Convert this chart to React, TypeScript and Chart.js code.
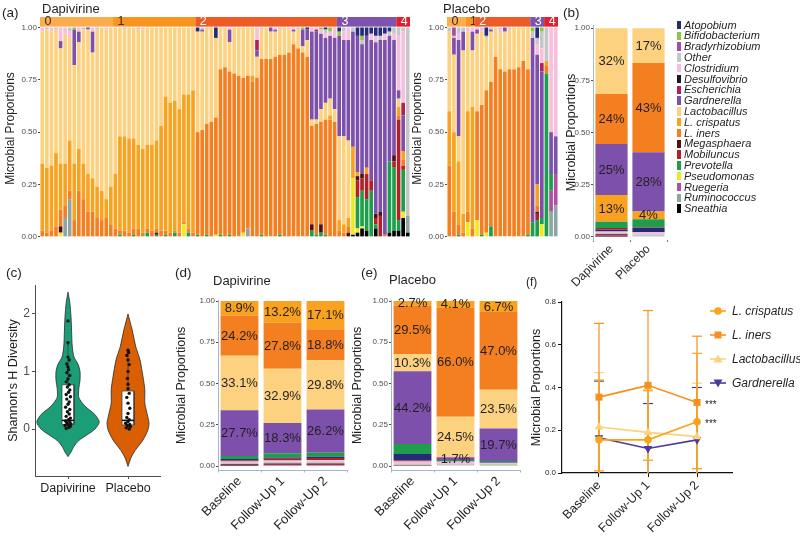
import React, { useEffect, useRef } from 'react';
import { Chart, registerables } from 'chart.js';

Chart.register(...registerables);

const FONT = '"Liberation Sans", Arial, Helvetica, sans-serif';
Chart.defaults.font.family = FONT;

// ---------------- taxa (legend order) & colours ----------------
const TAXA = ['Atopobium', 'Bifidobacterium', 'Bradyrhizobium', 'Other', 'Clostridium', 'Desulfovibrio', 'Escherichia', 'Gardnerella', 'Lactobacillus', 'L. crispatus', 'L. iners', 'Megasphaera', 'Mobiluncus', 'Prevotella', 'Pseudomonas', 'Ruegeria', 'Ruminococcus', 'Sneathia'];
const TAXA_COLORS = ['#262A78', '#8CC63F', '#A54C9B', '#C6C6C6', '#F7BEDD', '#1A1A1A', '#B11F5C', '#7D51AB', '#FCD281', '#F9A21F', '#F47F20', '#4E1012', '#B2202A', '#1E9E4A', '#F2E91D', '#B34FA3', '#8FA5A3', '#000000'];
const colorOf = (name: string) => TAXA_COLORS[TAXA.indexOf(name)];

// ---------------- (a) clusters ----------------
const clusterLabels = ['0', '1', '2', '3', '4'];
const clusterColors = ['#F9AD4F', '#F7951F', '#EF5B26', '#7E53AE', '#E41E2C'];
const clusterTextColors = ['#3B2A1A', '#3B2A1A', '#FFFFFF', '#FFFFFF', '#FFFFFF'];
const dapClusterSizes = [16, 18, 31, 13, 3];
const plaClusterSizes = [4, 2, 12, 3, 3];
const propTicks = [0, 0.25, 0.5, 0.75, 1];

// ---------------- (a) Dapivirine samples ----------------
const dapIners = [
  .03, .02, .03, .05, .08, .06, .04, .08, .22, .18,
  .12, .12, .09, .08, .09, .06, .04, .02, .03, .02,
  .03, .04, .02, .02, .03, .02, .03, .02, .02, .01,
  .02, .01, .02, .02, .49, .51, .53, .55, .56, .79,
  .81, .78, .78, .77, .74, .73, .74, .76, .84, .85,
  .85, .86, .86, .87, .88, .92, .90, .88, .86, .47,
  .53, .49, .55, .56, .55, .03, .02, .03, 0, 0,
  0, 0, 0, 0, 0, .01, 0, 0, .02, .03,
  0];
const dapCrispatus = [
  .32, .31, .31, .35, .22, .20, .24, .27, .20, .17,
  .18, .16, .15, .14, .09, .18, .26, .45, .45, .45,
  .43, .40, .40, .40, .41, .42, .50, .64, .62, .62,
  .59, .61, .64, .68, 0, 0, 0, 0, 0, 0,
  0, 0, 0, 0, 0, 0, .03, 0, 0, 0,
  0, 0, 0, 0, 0, 0, 0, 0, 0, 0,
  0, 0, 0, .02, 0, .05, .04, .04, .15, .02,
  0, .03, 0, 0, 0, 0, 0, 0, .04, .04,
  0];
const dapLactobacillus = [
  .63, .66, .64, .59, .55, .62, .49, .47, .51, .64,
  .69, .60, .75, .78, .81, .76, .70, .52, .51, .53,
  .53, .55, .57, .56, .56, .54, .47, .33, .36, .35,
  .39, .32, .32, .30, .48, .47, .46, .45, .38, .20,
  .19, .14, .22, .23, .24, .23, .23, .10, .14, .15,
  .13, .12, .12, .13, .11, .06, .09, .03, .08, .03,
  .02, .06, .08, .08, .06, .40, .42, .37, 0, 0,
  0, 0, 0, 0, 0, 0, 0, 0, .04, 0,
  0];
const dapGardnerella = [
  0, 0, 0, 0, .035, 0, 0, .17, .05, 0,
  .01, .10, 0, 0, 0, 0, 0, 0, 0, 0,
  0, 0, 0, 0, 0, 0, 0, 0, 0, 0,
  0, 0, 0, 0, 0, .01, 0, 0, 0, 0,
  0, .06, 0, 0, 0, 0, 0, .03, 0, 0,
  .02, .01, 0, 0, 0, .01, 0, .08, .05, .42,
  .42, .36, .31, .30, .34, .48, .46, .48, .55, .65,
  .62, .63, .67, .82, .82, .93, .60, .55, .04, .17,
  0];
// minor taxa: [sample index, proportion]
const dapPseudomonas: [number, number][] = [[4, .02], [31, .06], [38, .01], [44, .02], [68, .27], [69, .02], [70, .01], [79, .03]];
const dapMegasphaera: [number, number][] = [[4, .03], [25, .01], [59, .03], [61, .04], [67, .02], [69, .02], [70, .02], [73, .02], [74, .02], [77, .03]];
const dapRuminococcus: [number, number][] = [[5, .09], [6, .18], [45, .04], [80, .08]];
const dapPrevotella: [number, number][] = [[17, .01], [20, .01], [23, .02], [25, .01], [27, .01], [29, .02], [32, .02], [34, .01], [36, .01], [39, .01], [41, .01], [48, .01], [52, .01], [59, .03], [60, .01], [61, .02], [62, .01], [69, .15], [70, .17], [71, .15], [72, .22], [73, .02], [76, .34], [77, .30], [78, .05], [79, .20]];
const dapMobiluncus: [number, number][] = [[69, .08], [70, .06], [71, .12], [72, .05], [73, .03], [74, .10], [77, .03], [78, .48], [79, .02]];
const dapSneathia: [number, number][] = [[68, .01], [69, .02], [70, .04], [71, .03], [73, .04], [76, .02], [77, .03], [78, .03], [79, .09], [80, .02]];
const dapEscherichia: [number, number][] = [[47, .05], [60, .01], [79, .06]];
const dapBifidobacterium: [number, number][] = [[7, .01], [57, .01], [61, .01], [63, .02], [65, .02], [70, .02]];
const dapAtopobium: [number, number][] = [[34, .02], [38, .05], [58, .01], [62, .01], [65, .02], [69, .04], [70, .04], [71, .04], [72, .03], [73, .04], [74, .04], [75, .03], [76, .02]];
const dapClostridium: [number, number][] = [[0, .02], [2, .02], [4, .065], [5, .03], [6, .03], [8, .02], [11, .02], [14, .01], [22, .01], [41, .01], [47, .06], [51, .01], [54, .01], [55, .01], [59, .02], [60, .01], [61, .02], [62, .02], [63, .02], [64, .05], [66, .04], [67, .06], [72, .03], [73, .03], [75, .03], [77, .03], [78, .26], [79, .34]];
const dapOther: [number, number][] = [[1, .01], [3, .01], [6, .02], [9, .01], [12, .01], [18, .01], [21, .01], [35, .01], [48, .01], [52, .01], [56, .01], [62, .02], [66, .02], [68, .02], [70, .02], [74, .02], [76, .02], [77, .03], [78, .04], [79, .02], [80, .90]];
const dapBradyrhizobium: [number, number][] = [];
const dapDesulfovibrio: [number, number][] = [];
const dapRuegeria: [number, number][] = [];

// ---------------- (a) Placebo samples ----------------
const plaIners = [.34, .12, .05, .02, .05, .04, .52, .62, .68, .69, .86, .80, .79, .80, .80, .81, .84, .79, 0, .03, 0, .04, 0, 0];
const plaCrispatus = [.26, .38, .30, .09, .48, .58, 0, 0, 0, 0, 0, 0, 0, 0, 0, 0, 0, 0, 0, .10, 0, .02, 0, 0];
const plaLactobacillus = [.38, .37, .12, .78, .38, .27, .37, .35, .25, .24, .14, .17, .19, .19, .20, .19, .16, .20, 0, 0, 0, 0, 0, 0];
const plaGardnerella = [0, .08, .46, .09, 0, .09, .02, 0, 0, .01, 0, 0, .02, 0, 0, 0, 0, 0, .88, .62, .70, 0, .20, .18];
const plaPrevotella: [number, number][] = [[2, .01], [7, .01], [9, .05], [17, .01], [18, .07], [19, .08], [20, .03], [21, .78], [22, .08]];
const plaPseudomonas: [number, number][] = [[4, .07], [6, .08], [8, .02], [20, .06]];
const plaMobiluncus: [number, number][] = [[19, .03]];
const plaMegasphaera: [number, number][] = [[19, .01]];
const plaClostridium: [number, number][] = [[2, .03], [4, .02], [5, .02], [6, .01], [7, .02], [11, .02], [19, .05], [20, .07], [22, .50], [23, .52]];
const plaOther: [number, number][] = [[0, .02], [1, .01], [2, .03], [3, .02], [8, .01], [9, .01], [11, .01], [13, .01], [18, .03], [19, .03], [20, .08], [21, .16]];
const plaBradyrhizobium: [number, number][] = [[1, .04]];
const plaAtopobium: [number, number][] = [[8, .04], [19, .05]];
const plaBifidobacterium: [number, number][] = [[18, .02], [20, .02]];
const plaEscherichia: [number, number][] = [[20, .04]];
const plaRuminococcus: [number, number][] = [[22, .12], [23, .15]];
const plaRuegeria: [number, number][] = [[22, .10], [23, .15]];
const plaSneathia: [number, number][] = [];
const plaDesulfovibrio: [number, number][] = [];

// ---------------- (b) overall composition ----------------
const bGroups = ['Dapivirine', 'Placebo'];
const bLactobacillus = [0.316, 0.167];
const bIners = [0.239, 0.428];
const bGardnerella = [0.245, 0.283];
const bCrispatus = [0.128, 0.038];
const bPrevotella = [0.030, 0.038];
const bMobiluncus = [0.008, 0.002];
const bAtopobium = [0.008, 0.022];
const bClostridium = [0.008, 0.010];
const bOther = [0.006, 0.008];
const bMegasphaera = [0.006, 0];
const bEscherichia = [0.004, 0];
const bSneathia = [0.002, 0];
const bRuminococcus = [0, 0.004];

// ---------------- (c) Shannon diversity ----------------
const violinGroups = ['Dapivirine', 'Placebo'];
const violinTicks = [0, 1, 2];
const dapViolinY = [-0.48, -0.40, -0.30, -0.20, -0.10, 0.0, 0.12, 0.25, 0.40, 0.55, 0.70, 0.85, 1.00, 1.12, 1.25, 1.45, 1.70, 1.95, 2.20, 2.38];
const dapViolinHalf = [0, .05, .10, .18, .32, .45, .52, .45, .28, .18, .18, .20, .20, .17, .10, .07, .06, .05, .03, 0];
const plaViolinY = [-0.65, -0.50, -0.37, -0.19, -0.02, 0.10, 0.21, 0.45, 0.68, 0.91, 1.20, 1.43, 1.72, 2.0];
const plaViolinHalf = [0, .05, .12, .25, .33, .35, .33, .28, .28, .25, .20, .13, .07, 0];
const dapBoxStats = [0.0, 0.08, 0.15, 0.77, 1.52]; // low whisker, q1, median, q3, high whisker
const plaBoxStats = [0.0, 0.07, 0.15, 0.66, 1.37];
const dapShannon = [0.01, 0.03, 0.05, 0.06, 0.08, 0.09, 0.11, 0.12, 0.14, 0.16, 0.19, 0.22, 0.26, 0.30, 0.34, 0.38, 0.43, 0.47, 0.52, 0.56, 0.60, 0.64, 0.68, 0.73, 0.77, 0.82, 0.87, 0.93, 0.98, 1.03, 1.08, 1.13, 1.20, 1.25, 1.50, 1.88];
const dapJitter = [-0.03, 0.02, 0.04, -0.05, 0.0, 0.05, -0.02, 0.03, -0.04, 0.01, 0.04, -0.03, 0.02, -0.01, 0.03, -0.04, 0.0, 0.02, -0.02, 0.04, -0.03, 0.01, 0.03, -0.01, 0.02, -0.03, 0.0, 0.03, -0.02, 0.01, 0.0, -0.02, 0.02, 0.0, 0.0, 0.0];
const plaShannon = [0.0, 0.02, 0.04, 0.06, 0.08, 0.10, 0.13, 0.16, 0.20, 0.27, 0.36, 0.45, 0.55, 0.62, 0.70, 0.78, 0.88, 1.00, 1.12, 1.20, 1.28, 1.33, 1.37];
const plaJitter = [0.02, -0.03, 0.04, -0.01, 0.03, -0.04, 0.0, 0.02, -0.02, 0.0, 0.03, 0.0, -0.02, 0.02, 0.0, 0.0, -0.01, 0.0, 0.02, 0.0, -0.02, 0.01, 0.0];
const violinColors = ['#1B9E77', '#D95F02'];

// ---------------- (d) Dapivirine by visit ----------------
const visitLabels = ['Baseline', 'Follow-Up 1', 'Follow-Up 2'];
const dCrispatus = [.089, .132, .171];
const dIners = [.242, .278, .188];
const dLactobacillus = [.331, .329, .298];
const dGardnerella = [.277, .183, .262];
const dPrevotella = [.018, .026, .025];
const dAtopobium = [.010, .008, .008];
const dMobiluncus = [.006, .010, .012];
const dClostridium = [.008, .008, .010];
const dOther = [.008, .010, .010];
const dMegasphaera = [.006, .008, .008];
const dEscherichia = [.003, .004, .004];
const dSneathia = [.002, .004, .004];

// ---------------- (e) Placebo by visit ----------------
const eCrispatus = [.027, .041, .067];
const eIners = [.295, .660, .470];
const eLactobacillus = [.103, .245, .235];
const eGardnerella = [.442, .017, .197];
const ePrevotella = [.060, .006, .006];
const eAtopobium = [.040, .004, .005];
const eMobiluncus = [.006, 0, 0];
const eClostridium = [.010, .014, .004];
const eOther = [.010, .010, .010];
const eMegasphaera = [.004, 0, 0];
const eRuegeria = [.003, 0, 0];
const eBifidobacterium = [0, .003, .006];

// ---------------- (f) mean ± SD ----------------
const fX = [0, 1, 2];
const fTicks = [0, 0.2, 0.4, 0.6, 0.8];
const fCrispatusMean = [0.155, 0.155, 0.24];
const fCrispatusSD = [0.28, 0.23, 0.32];
const fInersMean = [0.355, 0.41, 0.33];
const fInersSD = [0.345, 0.35, 0.31];
const fLactoMean = [0.215, 0.19, 0.17];
const fLactoSD = [0.255, 0.20, 0.25];
const fGardMean = [0.165, 0.115, 0.155];
const fGardSD = [0.265, 0.21, 0.245];
const fSignif: [string, number][] = [['L. iners', 2], ['L. crispatus', 2]];

// ---------------- helpers ----------------
const sparse = (n: number, pairs: [number, number][]) => {
  const out = new Array(n).fill(0);
  pairs.forEach(([i, v]) => { out[i] = v; });
  return out;
};
const fixedTicks = (vals: number[]) => (scale: any) => { scale.ticks = vals.map((v) => ({ value: v })); };
const fixWidth = (w: number) => (scale: any) => { scale.width = w; };
const fixHeight = (h: number) => (scale: any) => { scale.height = h; };
const noUI = { legend: { display: false }, tooltip: { enabled: false } };

const DAP_N = dapIners.length;
const dapByTaxon: Record<string, number[]> = {
  Atopobium: sparse(DAP_N, dapAtopobium), Bifidobacterium: sparse(DAP_N, dapBifidobacterium),
  Bradyrhizobium: sparse(DAP_N, dapBradyrhizobium), Other: sparse(DAP_N, dapOther),
  Clostridium: sparse(DAP_N, dapClostridium), Desulfovibrio: sparse(DAP_N, dapDesulfovibrio),
  Escherichia: sparse(DAP_N, dapEscherichia), Gardnerella: dapGardnerella, Lactobacillus: dapLactobacillus,
  'L. crispatus': dapCrispatus, 'L. iners': dapIners, Megasphaera: sparse(DAP_N, dapMegasphaera),
  Mobiluncus: sparse(DAP_N, dapMobiluncus), Prevotella: sparse(DAP_N, dapPrevotella),
  Pseudomonas: sparse(DAP_N, dapPseudomonas), Ruegeria: sparse(DAP_N, dapRuegeria),
  Ruminococcus: sparse(DAP_N, dapRuminococcus), Sneathia: sparse(DAP_N, dapSneathia),
};
const PLA_N = plaIners.length;
const plaByTaxon: Record<string, number[]> = {
  Atopobium: sparse(PLA_N, plaAtopobium), Bifidobacterium: sparse(PLA_N, plaBifidobacterium),
  Bradyrhizobium: sparse(PLA_N, plaBradyrhizobium), Other: sparse(PLA_N, plaOther),
  Clostridium: sparse(PLA_N, plaClostridium), Desulfovibrio: sparse(PLA_N, plaDesulfovibrio),
  Escherichia: sparse(PLA_N, plaEscherichia), Gardnerella: plaGardnerella, Lactobacillus: plaLactobacillus,
  'L. crispatus': plaCrispatus, 'L. iners': plaIners, Megasphaera: sparse(PLA_N, plaMegasphaera),
  Mobiluncus: sparse(PLA_N, plaMobiluncus), Prevotella: sparse(PLA_N, plaPrevotella),
  Pseudomonas: sparse(PLA_N, plaPseudomonas), Ruegeria: sparse(PLA_N, plaRuegeria),
  Ruminococcus: sparse(PLA_N, plaRuminococcus), Sneathia: sparse(PLA_N, plaSneathia),
};

const STRIP_TOP = 1.05;
const STRIP_BOTTOM = 1.004;

const clusterStripPlugin = (sizes: number[]) => ({
  id: 'clusterStrip',
  afterDatasetsDraw(chart: any) {
    const { ctx } = chart;
    const x = chart.scales.x;
    const y = chart.scales.y;
    const half = (x.getPixelForValue(1) - x.getPixelForValue(0)) / 2;
    const top = y.getPixelForValue(STRIP_TOP);
    const bottom = y.getPixelForValue(STRIP_BOTTOM);
    let start = 0;
    ctx.save();
    sizes.forEach((n, k) => {
      const x0 = x.getPixelForValue(start) - half;
      const x1 = x.getPixelForValue(start + n - 1) + half;
      ctx.fillStyle = clusterColors[k];
      ctx.fillRect(x0, top, x1 - x0, bottom - top);
      ctx.fillStyle = clusterTextColors[k];
      ctx.font = `12.5px ${FONT}`;
      ctx.textBaseline = 'alphabetic';
      ctx.textAlign = 'left';
      ctx.fillText(clusterLabels[k], x0 + 4.5, bottom - 1.2);
      start += n;
    });
    ctx.restore();
  },
});

const pctLabelPlugin = (names: string[], decimals: number, size: number) => ({
  id: 'pctLabels',
  afterDatasetsDraw(chart: any) {
    const ctx = chart.ctx;
    ctx.save();
    ctx.font = `${size}px ${FONT}`;
    ctx.fillStyle = '#231F20';
    ctx.textAlign = 'center';
    ctx.textBaseline = 'middle';
    chart.data.datasets.forEach((ds: any, i: number) => {
      if (!names.includes(ds.label)) return;
      chart.getDatasetMeta(i).data.forEach((el: any, j: number) => {
        const v = ds.data[j];
        if (!v) return;
        ctx.fillText((v * 100).toFixed(decimals) + '%', el.x, (el.y + el.base) / 2 + 0.5);
      });
    });
    ctx.restore();
  },
});

const signifPlugin = {
  id: 'signif',
  afterDatasetsDraw(chart: any) {
    const ctx = chart.ctx;
    ctx.save();
    ctx.font = `10px ${FONT}`;
    ctx.fillStyle = '#231F20';
    ctx.textAlign = 'left';
    ctx.textBaseline = 'middle';
    fSignif.forEach(([name, idx]) => {
      const di = chart.data.datasets.findIndex((d: any) => d.label === name);
      const el = chart.getDatasetMeta(di).data[idx];
      ctx.fillText('***', el.x + 8, el.y + 3);
    });
    ctx.restore();
  },
};

const propAxisY = (width: number, titlePad: number, min: number, max: number, border: any) => ({
  stacked: true, min, max,
  afterFit: fixWidth(width),
  afterBuildTicks: fixedTicks(propTicks),
  ticks: { font: { size: 8 }, color: '#4D4D4D', padding: 1, callback: (v: any) => Number(v).toFixed(2) },
  grid: { drawOnChartArea: false, tickLength: 2, color: '#4D4D4D' },
  border,
  title: { display: true, text: 'Microbial Proportions', color: '#231F20', font: { size: 12.5, lineHeight: 1 }, padding: { top: titlePad, bottom: 0 } },
});

// ---------------- configs ----------------
function sampleConfig(byTaxon: Record<string, number[]>, sizes: number[], axisWidth: number, titlePad: number) {
  const labels = byTaxon['L. iners'].map((_, i) => `S${i + 1}`);
  return {
    type: 'bar',
    data: {
      labels,
      datasets: [...TAXA].reverse().map((name) => ({
        label: name, data: byTaxon[name], backgroundColor: colorOf(name), borderWidth: 0,
        barPercentage: 0.8, categoryPercentage: 1, stack: 'p',
      })),
    },
    options: {
      responsive: false, animation: false, events: [],
      layout: { padding: { top: 17, bottom: 10, left: 0, right: 2 } },
      plugins: noUI,
      scales: {
        x: { stacked: true, display: false },
        y: { ...propAxisY(axisWidth, titlePad, -0.015, STRIP_TOP, { display: false }), title: { display: true, text: 'Microbial Proportions', color: '#231F20', font: { size: 12, lineHeight: 1 }, padding: { top: titlePad, bottom: 0 } } },
      },
    },
    plugins: [clusterStripPlugin(sizes)],
  };
}

function bConfig() {
  const byTaxon: Record<string, number[]> = {
    Sneathia: bSneathia, Ruminococcus: bRuminococcus, Escherichia: bEscherichia, Megasphaera: bMegasphaera,
    Other: bOther, Clostridium: bClostridium, Atopobium: bAtopobium, Mobiluncus: bMobiluncus,
    Prevotella: bPrevotella, 'L. crispatus': bCrispatus, Gardnerella: bGardnerella, 'L. iners': bIners,
    Lactobacillus: bLactobacillus,
  };
  return {
    type: 'bar',
    data: {
      labels: bGroups,
      datasets: Object.keys(byTaxon).map((name) => ({
        label: name, data: byTaxon[name], backgroundColor: colorOf(name), borderWidth: 0,
        barPercentage: 0.87, categoryPercentage: 1, stack: 'p',
      })),
    },
    options: {
      responsive: false, animation: false, events: [],
      layout: { padding: { top: 25, bottom: 0, left: 0, right: 5 } },
      plugins: noUI,
      scales: {
        x: {
          stacked: true, afterFit: fixHeight(50),
          ticks: { font: { size: 12 }, color: '#231F20', minRotation: 45, maxRotation: 45, padding: 0, autoSkip: false },
          grid: { drawOnChartArea: false, tickLength: 2, color: '#777' },
          border: { display: false },
        },
        y: propAxisY(31, 3.75, -0.015, 1.015, { display: true, color: '#A9BCCF', width: 1 }),
      },
    },
    plugins: [pctLabelPlugin(['Lactobacillus', 'L. iners', 'Gardnerella', 'L. crispatus'], 0, 13)],
  };
}

function visitConfig(byTaxon: Record<string, number[]>, axisWidth: number, titlePad: number) {
  return {
    type: 'bar',
    data: {
      labels: visitLabels,
      datasets: Object.keys(byTaxon).map((name) => ({
        label: name, data: byTaxon[name], backgroundColor: colorOf(name), borderWidth: 0,
        barPercentage: 0.88, categoryPercentage: 1, stack: 'p',
      })),
    },
    options: {
      responsive: false, animation: false, events: [],
      layout: { padding: { top: 38.2, bottom: 0, left: 0, right: 5 } },
      plugins: noUI,
      scales: {
        x: {
          stacked: true, afterFit: fixHeight(66.5),
          ticks: { font: { size: 13 }, color: '#231F20', minRotation: 45, maxRotation: 45, padding: 1, autoSkip: false },
          grid: { drawOnChartArea: false, tickLength: 2, color: '#A5B6C9' },
          border: { display: true, color: '#A5B6C9', width: 1 },
        },
        y: propAxisY(axisWidth, titlePad, -0.027, 1.005, { display: true, color: '#A5B6C9', width: 1 }),
      },
    },
    plugins: [pctLabelPlugin(['L. crispatus', 'L. iners', 'Lactobacillus', 'Gardnerella'], 1, 13)],
  };
}

function violinConfig() {
  const ds: any[] = [];
  const groups = [
    { c: 1, ys: dapViolinY, hw: dapViolinHalf, stats: dapBoxStats, pts: dapShannon, jit: dapJitter, color: violinColors[0] },
    { c: 2, ys: plaViolinY, hw: plaViolinHalf, stats: plaBoxStats, pts: plaShannon, jit: plaJitter, color: violinColors[1] },
  ];
  const BOX = 0.1;
  groups.forEach((g) => {
    const [lo, q1, med, q3, hi] = g.stats;
    ds.push({ data: g.pts.map((v, i) => ({ x: g.c + g.jit[i], y: v })), pointRadius: 1.7, pointBackgroundColor: '#111', pointBorderWidth: 0, order: 0 });
    ds.push({ data: [{ x: g.c - BOX, y: med }, { x: g.c + BOX, y: med }], showLine: true, borderColor: '#111', borderWidth: 1.6, pointRadius: 0, order: 1 });
    ds.push({
      data: [{ x: g.c - BOX, y: q1 }, { x: g.c - BOX, y: q3 }, { x: g.c + BOX, y: q3 }, { x: g.c + BOX, y: q1 }, { x: g.c - BOX, y: q1 }],
      showLine: true, fill: 'shape', backgroundColor: '#FFFFFF', borderColor: '#333', borderWidth: 0.7, pointRadius: 0, order: 2,
    });
    ds.push({ data: [{ x: g.c, y: lo }, { x: g.c, y: hi }], showLine: true, borderColor: '#333', borderWidth: 0.7, pointRadius: 0, order: 3 });
    const left = g.ys.map((y, i) => ({ x: g.c - g.hw[i], y }));
    const right = g.ys.map((y, i) => ({ x: g.c + g.hw[i], y })).reverse();
    ds.push({ data: [...left, ...right], showLine: true, fill: 'shape', backgroundColor: g.color, borderColor: '#2A2A2A', borderWidth: 0.8, pointRadius: 0, tension: 0.25, order: 4 });
  });
  return {
    type: 'scatter',
    data: { datasets: ds },
    options: {
      responsive: false, animation: false, events: [],
      layout: { padding: { top: 23, bottom: 0, left: 0, right: 5 } },
      plugins: noUI,
      scales: {
        x: {
          type: 'linear', min: 0.45, max: 2.533, afterFit: fixHeight(26),
          afterBuildTicks: fixedTicks([1, 2]),
          ticks: { font: { size: 12.5 }, color: '#231F20', maxRotation: 0, padding: 2, callback: (v: any) => violinGroups[Number(v) - 1] },
          grid: { drawOnChartArea: false, tickLength: 3, color: '#4D4D4D' },
          border: { display: true, color: '#4D4D4D', width: 1 },
        },
        y: {
          type: 'linear', min: -0.817, max: 2.504, afterFit: fixWidth(35),
          afterBuildTicks: fixedTicks(violinTicks),
          ticks: { font: { size: 12 }, color: '#4D4D4D', padding: 2 },
          grid: { drawOnChartArea: false, tickLength: 3, color: '#4D4D4D' },
          border: { display: true, color: '#4D4D4D', width: 1 },
          title: { display: true, text: "Shannon's H Diversity", color: '#231F20', font: { size: 12.5, lineHeight: 1 }, padding: { top: 7, bottom: 0 } },
        },
      },
    },
  };
}

const fSeries = [
  { name: 'L. crispatus', mean: fCrispatusMean, sd: fCrispatusSD, color: '#F9A51B', style: 'circle', rot: 0, r: 3.8, icon: 'circle' },
  { name: 'L. iners', mean: fInersMean, sd: fInersSD, color: '#F7901E', style: 'rect', rot: 0, r: 5, icon: 'rect' },
  { name: 'Lactobacillus', mean: fLactoMean, sd: fLactoSD, color: '#FCD27C', style: 'triangle', rot: 0, r: 5, icon: 'up' },
  { name: 'Gardnerella', mean: fGardMean, sd: fGardSD, color: '#4B3B9E', style: 'triangle', rot: 180, r: 5, icon: 'down' },
];

function fConfig() {
  const ds: any[] = [];
  fSeries.forEach((s) => {
    ds.push({
      label: s.name, data: fX.map((x, i) => ({ x, y: s.mean[i] })), showLine: true,
      borderColor: s.color, borderWidth: 1.6, pointStyle: s.style, pointRotation: s.rot, pointRadius: s.r,
      pointBackgroundColor: s.color, pointBorderColor: s.color, pointBorderWidth: 0, order: 0,
    });
  });
  fSeries.forEach((s) => {
    fX.forEach((x, i) => {
      ds.push({
        label: s.name + ' SD', data: [{ x, y: s.mean[i] - s.sd[i] }, { x, y: s.mean[i] + s.sd[i] }], showLine: true,
        borderColor: s.color, borderWidth: 1.2, pointStyle: 'line', pointRadius: 5, pointBorderColor: s.color,
        pointBorderWidth: 1.2, clip: { left: 20, right: 20, top: 20, bottom: 0 }, order: 1,
      });
    });
  });
  return {
    type: 'scatter',
    data: { datasets: ds },
    options: {
      responsive: false, animation: false, events: [],
      layout: { padding: { top: 40, bottom: 0, left: 0, right: 68 } },
      plugins: noUI,
      scales: {
        x: {
          type: 'linear', min: -0.755, max: 2.714, afterFit: fixHeight(64),
          afterBuildTicks: fixedTicks(fX),
          ticks: { font: { size: 12.5 }, color: '#231F20', minRotation: 45, maxRotation: 45, padding: 1, callback: (v: any) => visitLabels[Number(v)] },
          grid: { drawOnChartArea: false, tickLength: 4, color: '#111' },
          border: { display: true, color: '#111', width: 1.2 },
        },
        y: {
          type: 'linear', min: 0, max: 0.8, afterFit: fixWidth(42),
          afterBuildTicks: fixedTicks(fTicks),
          ticks: { font: { size: 8 }, color: '#231F20', padding: 2, callback: (v: any) => Number(v).toFixed(1) },
          grid: { drawOnChartArea: false, tickLength: 4, color: '#111' },
          border: { display: true, color: '#111', width: 1.2 },
          title: { display: true, text: 'Microbial Proportions', color: '#231F20', font: { size: 12.5, lineHeight: 1 }, padding: { top: 10.75, bottom: 0 } },
        },
      },
    },
    plugins: [signifPlugin],
  };
}

// ---------------- components ----------------
function ChartCanvas({ left, top, width, height, make }: { left: number; top: number; width: number; height: number; make: () => any }) {
  const ref = useRef<HTMLCanvasElement | null>(null);
  useEffect(() => {
    if (!ref.current) return;
    const chart = new Chart(ref.current, make());
    return () => chart.destroy();
  }, []);
  return <canvas ref={ref} width={width} height={height} style={{ position: 'absolute', left, top, width, height }} />;
}

function Txt({ x, y, size, italic, color, children }: { x: number; y: number; size: number; italic?: boolean; color?: string; children: any }) {
  return (
    <div style={{
      position: 'absolute', left: x, top: y - 0.8465 * size, fontSize: size, lineHeight: `${size}px`,
      fontStyle: italic ? 'italic' : 'normal', color: color || '#231F20', whiteSpace: 'nowrap', fontFamily: FONT,
    }}>{children}</div>
  );
}

function FMarker({ icon, color, cy }: { icon: string; color: string; cy: number }) {
  return (
    <svg width={18} height={12} style={{ position: 'absolute', left: 709, top: cy - 6 }}>
      <line x1={1} y1={6} x2={17} y2={6} stroke={color} strokeWidth={1.6} />
      {icon === 'circle' && <circle cx={9} cy={6} r={3.8} fill={color} />}
      {icon === 'rect' && <rect x={5.5} y={2.5} width={7} height={7} fill={color} />}
      {icon === 'up' && <polygon points="9,1.5 13.5,9.5 4.5,9.5" fill={color} />}
      {icon === 'down' && <polygon points="9,10.5 13.5,2.5 4.5,2.5" fill={color} />}
    </svg>
  );
}

export default function App() {
  const dByTaxon: Record<string, number[]> = {
    Sneathia: dSneathia, Escherichia: dEscherichia, Megasphaera: dMegasphaera, Other: dOther,
    Clostridium: dClostridium, Mobiluncus: dMobiluncus, Atopobium: dAtopobium, Prevotella: dPrevotella,
    Gardnerella: dGardnerella, Lactobacillus: dLactobacillus, 'L. iners': dIners, 'L. crispatus': dCrispatus,
  };
  const eByTaxon: Record<string, number[]> = {
    Ruegeria: eRuegeria, Bifidobacterium: eBifidobacterium, Megasphaera: eMegasphaera, Other: eOther,
    Clostridium: eClostridium, Mobiluncus: eMobiluncus, Atopobium: eAtopobium, Prevotella: ePrevotella,
    Gardnerella: eGardnerella, Lactobacillus: eLactobacillus, 'L. iners': eIners, 'L. crispatus': eCrispatus,
  };
  return (
    <div style={{ position: 'fixed', left: 0, top: 0, width: 800, height: 539, background: '#FFFFFF', overflow: 'hidden', fontFamily: FONT }}>
      <ChartCanvas left={0} top={0} width={412} height={250} make={() => sampleConfig(dapByTaxon, dapClusterSizes, 40, 5)} />
      <ChartCanvas left={412} top={0} width={148} height={250} make={() => sampleConfig(plaByTaxon, plaClusterSizes, 35, 0)} />
      <ChartCanvas left={562} top={0} width={110} height={290} make={bConfig} />
      <ChartCanvas left={0} top={262} width={165} height={240} make={violinConfig} />
      <ChartCanvas left={175} top={262} width={177} height={275} make={() => visitConfig(dByTaxon, 43, 0.75)} />
      <ChartCanvas left={350} top={262} width={175} height={275} make={() => visitConfig(eByTaxon, 41, 1.75)} />
      <ChartCanvas left={520} top={262} width={280} height={275} make={fConfig} />

      <Txt x={2} y={17.5} size={13.5}>(a)</Txt>
      <Txt x={42} y={13} size={13}>Dapivirine</Txt>
      <Txt x={443} y={13} size={13}>Placebo</Txt>
      <Txt x={563} y={17.5} size={13.5}>(b)</Txt>
      <Txt x={6} y={277.5} size={13.5}>(c)</Txt>
      <Txt x={175} y={277.5} size={13.5}>(d)</Txt>
      <Txt x={213} y={285} size={13}>Dapivirine</Txt>
      <Txt x={361} y={277.5} size={13.5}>(e)</Txt>
      <Txt x={389} y={284} size={13}>Placebo</Txt>
      <Txt x={526} y={286} size={12}>(f)</Txt>

      {TAXA.map((name, i) => {
        const cy = 25 + 10.8 * i;
        return (
          <React.Fragment key={name}>
            <div style={{ position: 'absolute', left: 677, top: cy - 4.2, width: 4, height: 8.4, background: TAXA_COLORS[i] }} />
            <Txt x={684} y={cy + 3.9} size={11} italic>{name}</Txt>
          </React.Fragment>
        );
      })}

      {fSeries.map((s, i) => {
        const cy = 311 + 24 * i;
        return (
          <React.Fragment key={s.name}>
            <FMarker icon={s.icon} color={s.color} cy={cy} />
            <Txt x={732} y={cy + 4.3} size={12} italic>{s.name}</Txt>
          </React.Fragment>
        );
      })}
    </div>
  );
}
